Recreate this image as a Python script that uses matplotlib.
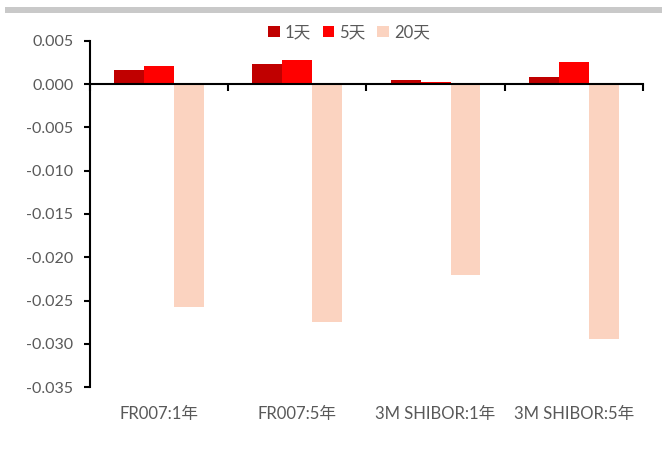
import matplotlib
matplotlib.use("Agg")
import matplotlib.pyplot as plt
from matplotlib.patches import Rectangle
import matplotlib.transforms as mtransforms
import numpy as np

plt.rcParams['font.family'] = ['Lato', 'Noto Sans CJK SC', 'DejaVu Sans']

categories = ["FR007:1年", "FR007:5年", "3M SHIBOR:1年", "3M SHIBOR:5年"]
series_names = ["1天", "5天", "20天"]
d1 = [0.00166, 0.00235, 0.00050, 0.00077]
d5 = [0.00212, 0.00282, 0.00028, 0.00258]
d20 = [-0.0257, -0.0275, -0.0220, -0.0294]
colors = ["#C00000", "#FF0000", "#FBD3C0"]
yticks = [0.005, 0.0, -0.005, -0.010, -0.015, -0.020, -0.025, -0.030, -0.035]

fig = plt.figure(figsize=(6.62, 4.51), dpi=100)
ax = fig.add_axes([0.136, 0.1412, 0.835, 0.7686])

# top gray band
fig.add_artist(Rectangle((0.007, 1 - 12.7/451), 0.993, 5.4/451, transform=fig.transFigure,
                         facecolor="#C9C9C9", edgecolor="none"))

x = np.arange(len(categories))
w = 0.217
for i, (vals, name) in enumerate(zip([d1, d5, d20], series_names)):
    ax.bar(x + (i - 1) * w, vals, width=w, color=colors[i], label=name, zorder=2)

ax.set_xlim(-0.5, len(categories) - 0.5)
ax.set_ylim(-0.035, 0.005)
ax.set_yticks(yticks)
ax.set_yticklabels([f"{v:.3f}" for v in yticks])
ax.tick_params(axis='y', direction='out', length=4, width=1.5, colors='black',
               labelcolor='#595959', labelsize=11.5, pad=8)

for s in ['top', 'right']:
    ax.spines[s].set_visible(False)
ax.spines['left'].set_linewidth(1.5)
ax.spines['bottom'].set_position(('data', 0))
ax.spines['bottom'].set_linewidth(1.5)
ax.spines['bottom'].set_zorder(3)

ax.set_xticks(np.arange(-0.5, len(categories), 1.0))
ax.set_xticklabels([])
ax.tick_params(axis='x', direction='out', length=5, width=1.5, colors='black')

trans = mtransforms.blended_transform_factory(ax.transData, ax.transAxes)
for xi, c in zip(x, categories):
    ax.text(xi, -0.077, c, transform=trans, ha='center', va='center',
            fontsize=12, color='#595959')

leg = fig.legend(loc='center', bbox_to_anchor=(0.527, 0.928), ncol=3, frameon=False,
                 handlelength=0.7, handleheight=0.7, handletextpad=0.3,
                 columnspacing=0.7, fontsize=12)
for t in leg.get_texts():
    t.set_color('#595959')

fig.savefig("out.png", dpi=100)
